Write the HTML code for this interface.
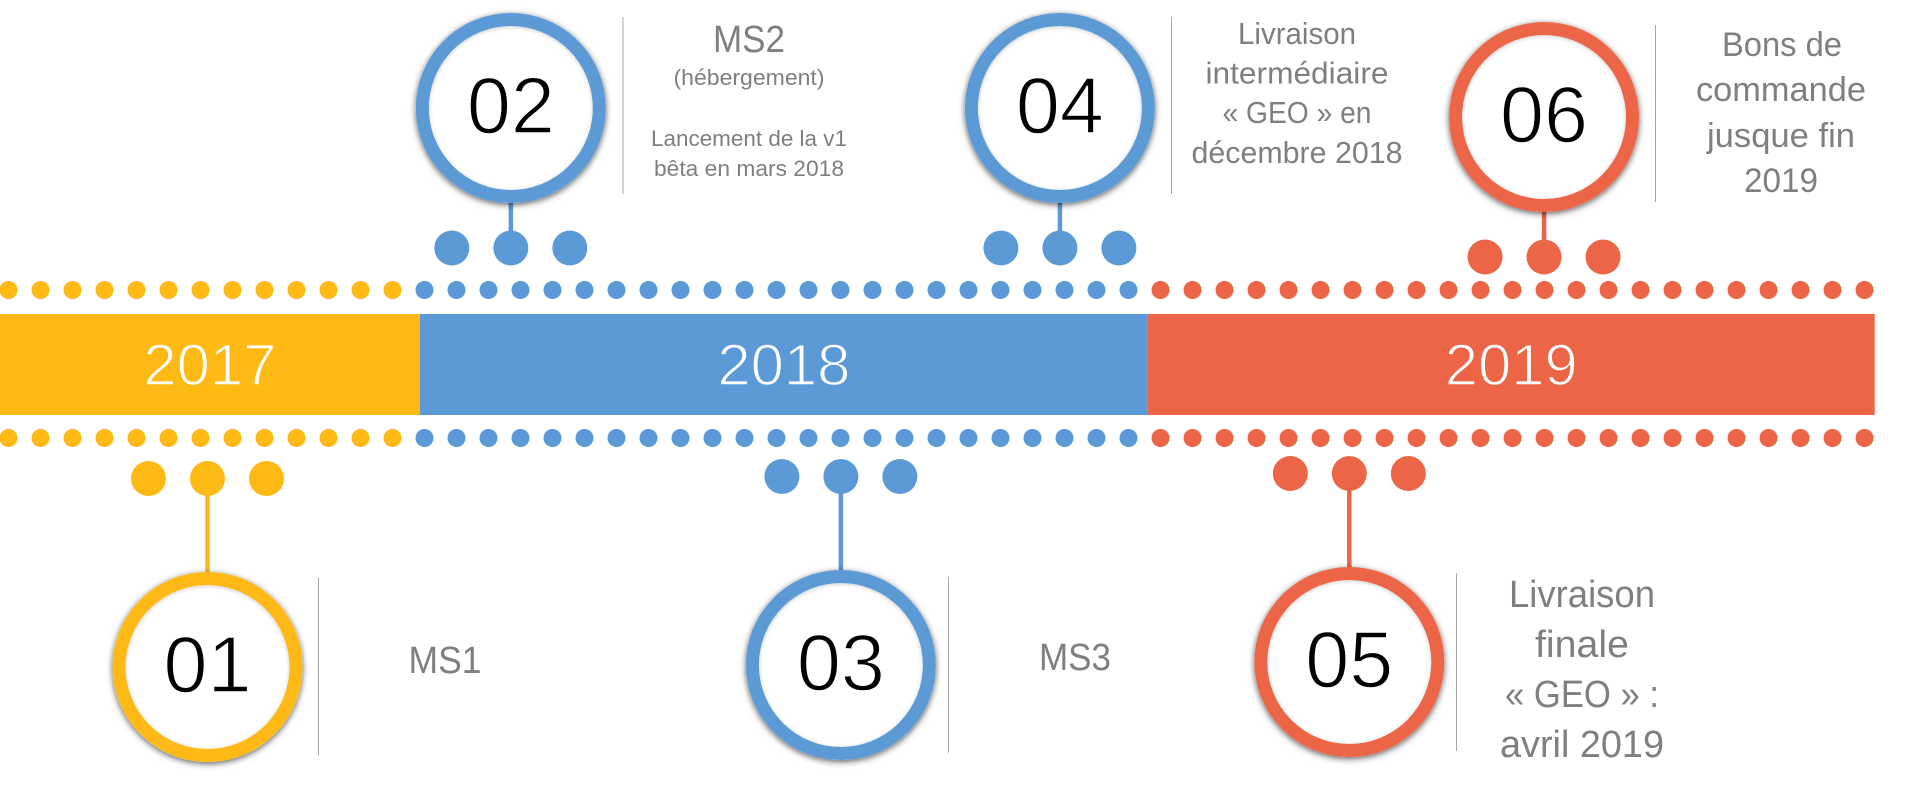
<!DOCTYPE html>
<html lang="fr">
<head>
<meta charset="utf-8">
<title>Calendrier 2017-2019</title>
<style>
html,body{margin:0;padding:0;background:#fff;width:1909px;height:795px;overflow:hidden}
svg{display:block}
text{font-family:"Liberation Sans",sans-serif}
.note{fill:#7f7f7f;text-anchor:middle}
</style>
</head>
<body>
<svg id="timeline" xmlns="http://www.w3.org/2000/svg" width="1909" height="795" viewBox="0 0 1909 795">
  <defs>
    <filter id="disc-shadow" x="-20%" y="-20%" width="140%" height="140%">
      <feDropShadow dx="0" dy="2" stdDeviation="3.5" flood-color="#000" flood-opacity="0.5"/>
    </filter>
    <filter id="ring-shadow" x="-20%" y="-20%" width="140%" height="140%">
      <feDropShadow dx="0" dy="1" stdDeviation="2" flood-color="#000" flood-opacity="0.2"/>
    </filter>
  </defs>

  <g id="bands"></g>
  <g id="dots"></g>
  <g id="milestones"></g>

  <g stroke="#a6a6a6" stroke-width="1">
    <line x1="318.5" y1="578" x2="318.5" y2="755"/>
    <line x1="623" y1="17" x2="623" y2="194"/>
    <line x1="948.5" y1="577" x2="948.5" y2="753"/>
    <line x1="1171.5" y1="17" x2="1171.5" y2="194"/>
    <line x1="1456.5" y1="573" x2="1456.5" y2="751"/>
    <line x1="1655.5" y1="25" x2="1655.5" y2="202"/>
  </g>

  <g>
    <text class="note" x="445" y="673" font-size="38" textLength="73" lengthAdjust="spacingAndGlyphs">MS1</text>

    <text class="note" x="749" y="52" font-size="38" textLength="72" lengthAdjust="spacingAndGlyphs">MS2</text>
    <text class="note" x="749" y="85" font-size="22" textLength="151" lengthAdjust="spacingAndGlyphs">(hébergement)</text>
    <text class="note" x="749" y="146" font-size="22" textLength="196" lengthAdjust="spacingAndGlyphs">Lancement de la v1</text>
    <text class="note" x="749" y="176" font-size="22" textLength="190" lengthAdjust="spacingAndGlyphs">bêta en mars 2018</text>

    <text class="note" x="1075" y="670" font-size="38" textLength="72" lengthAdjust="spacingAndGlyphs">MS3</text>

    <text class="note" x="1297" y="44" font-size="31" textLength="118" lengthAdjust="spacingAndGlyphs">Livraison</text>
    <text class="note" x="1297" y="83.5" font-size="31" textLength="183" lengthAdjust="spacingAndGlyphs">intermédiaire</text>
    <text class="note" x="1297" y="123" font-size="31" textLength="149" lengthAdjust="spacingAndGlyphs">« GEO » en</text>
    <text class="note" x="1297" y="163" font-size="31" textLength="211" lengthAdjust="spacingAndGlyphs">décembre 2018</text>

    <text class="note" x="1582" y="607" font-size="38" textLength="146" lengthAdjust="spacingAndGlyphs">Livraison</text>
    <text class="note" x="1582" y="657" font-size="38" textLength="94" lengthAdjust="spacingAndGlyphs">finale</text>
    <text class="note" x="1582" y="707" font-size="38" textLength="154" lengthAdjust="spacingAndGlyphs">« GEO » :</text>
    <text class="note" x="1582" y="757" font-size="38" textLength="164" lengthAdjust="spacingAndGlyphs">avril 2019</text>

    <text class="note" x="1782" y="56" font-size="34" textLength="120" lengthAdjust="spacingAndGlyphs">Bons de</text>
    <text class="note" x="1781" y="101" font-size="34" textLength="170" lengthAdjust="spacingAndGlyphs">commande</text>
    <text class="note" x="1781" y="147" font-size="34" textLength="148" lengthAdjust="spacingAndGlyphs">jusque fin</text>
    <text class="note" x="1781" y="192" font-size="34" textLength="74" lengthAdjust="spacingAndGlyphs">2019</text>
  </g>
</svg>

<script>
// Timeline data
const years = [2017, 2018, 2019];
const yearMonths = [6.92, 12, 11.98];
const dotsPerYear = [13, 23, 23];
const milestoneIds = ['01', '02', '03', '04', '05', '06'];
const milestoneMonths = [3.42, 8.42, 13.86, 17.47, 22.24, 25.45];
const milestoneSides = ['below', 'above', 'below', 'above', 'below', 'above'];

// Axis and styling
const NS = 'http://www.w3.org/2000/svg';
const PX_PER_MONTH = 60.67;
const xScale = function (month) { return month * PX_PER_MONTH; };
const dotScale = function (index) { return 8.5 + index * 32; };
const yearColors = { 2017: '#ffb914', 2018: '#5b9ad6', 2019: '#ec6546' };
const ringCenterY = { '01': 667, '02': 108, '03': 665, '04': 108, '05': 662, '06': 117 };

function make(parent, tag, attrs) {
  const el = document.createElementNS(NS, tag);
  for (const key in attrs) { el.setAttribute(key, attrs[key]); }
  parent.appendChild(el);
  return el;
}

function yearOfMonth(month) {
  let end = 0;
  for (let i = 0; i < years.length; i++) {
    end += yearMonths[i];
    if (month < end) { return years[i]; }
  }
  return years[years.length - 1];
}

// Year bands
const bandsLayer = document.getElementById('bands');
let monthCursor = 0;
years.forEach(function (year, i) {
  const x0 = xScale(monthCursor);
  const x1 = xScale(monthCursor + yearMonths[i]);
  const band = make(bandsLayer, 'rect', { x: x0, y: 314, width: x1 - x0, height: 101, fill: yearColors[year] });
  
  
  const label = make(bandsLayer, 'text', {
    x: (x0 + x1) / 2, y: 385, 'font-size': 58, fill: '#fff', 'text-anchor': 'middle',
    stroke: yearColors[year], 'stroke-width': 1.4,
    textLength: 133, lengthAdjust: 'spacingAndGlyphs'
  });
  label.textContent = String(year);
  
  
  monthCursor += yearMonths[i];
});

// Dotted rows above and below the bands
const dotsLayer = document.getElementById('dots');
[290, 438].forEach(function (rowY) {
  let index = 0;
  years.forEach(function (year, y) {
    for (let n = 0; n < dotsPerYear[y]; n++) {
      const dot = make(dotsLayer, 'circle', { cx: dotScale(index), cy: rowY, r: 9, fill: yearColors[year] });
      
      
      index++;
    }
  });
});

// Milestones: triple dots, stem, ring, number
const msLayer = document.getElementById('milestones');
milestoneIds.forEach(function (id, i) {
  const cx = xScale(milestoneMonths[i]);
  const cy = ringCenterY[id];
  const above = milestoneSides[i] === 'above';
  const color = yearColors[yearOfMonth(milestoneMonths[i])];
  const groupY = above ? cy + 140 : cy - 188.5;

  const stem = make(msLayer, 'line', {
    x1: cx, x2: cx, y1: above ? cy + 94 : groupY, y2: above ? groupY : cy - 94,
    stroke: color, 'stroke-width': 4.5
  });
  
  

  [-59, 0, 59].forEach(function (offset) {
    const pip = make(msLayer, 'circle', { cx: cx + offset, cy: groupY, r: 17.5, fill: color });
    
    
  });

  const disc = make(msLayer, 'circle', { cx: cx, cy: cy, r: 95, fill: '#fff', filter: 'url(#disc-shadow)' });
  
  

  const ring = make(msLayer, 'circle', {
    cx: cx, cy: cy, r: 88.5, fill: 'none', stroke: color, 'stroke-width': 13, filter: 'url(#ring-shadow)'
  });
  
  

  const num = make(msLayer, 'text', {
    x: cx, y: cy + 25, 'font-size': 80, fill: '#000', 'text-anchor': 'middle',
    stroke: '#fff', 'stroke-width': 1.5, textLength: 88, lengthAdjust: 'spacingAndGlyphs'
  });
  num.textContent = id;
  
  
});
</script>
</body>
</html>
